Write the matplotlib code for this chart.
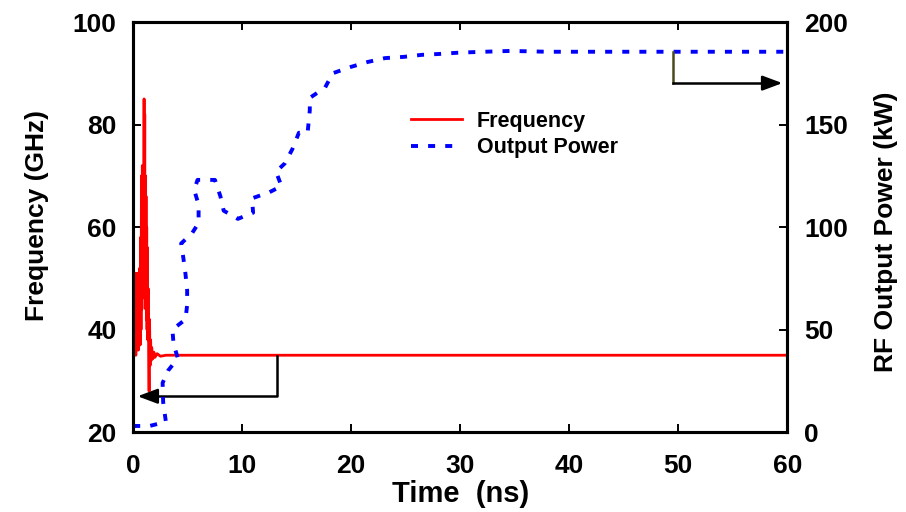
import matplotlib.pyplot as plt

plt.rcParams["font.family"] = ["Liberation Sans", "DejaVu Sans"]
plt.rcParams["font.weight"] = "bold"

# frequency trace (GHz) vs time (ns)
freq_t = [0.0, 0.04, 0.08, 0.12, 0.16, 0.2, 0.24, 0.28, 0.32, 0.36, 0.4,
          0.44, 0.48, 0.52, 0.56, 0.6, 0.64, 0.68, 0.72, 0.76, 0.8, 0.84,
          0.88, 0.92, 0.96, 1.0, 1.03, 1.06, 1.09, 1.12, 1.15, 1.18, 1.21,
          1.24, 1.27, 1.3, 1.34, 1.38, 1.42, 1.46, 1.5, 1.55, 1.6, 1.65,
          1.7, 1.8, 1.9, 2.0, 2.2, 2.5, 3.0, 60.0]
freq = [35, 51, 35, 50, 36, 51, 35, 49, 36, 51, 37,
        48, 36, 50, 38, 52, 37, 58, 40, 70, 44, 72,
        48, 68, 55, 85, 58, 82, 46, 70, 44, 66, 42,
        60, 40, 56, 38, 48, 36, 28, 42, 33, 38, 34,
        36.5, 34.3, 35.6, 34.6, 35.3, 34.8, 35.0, 35.0]

# RF output power (kW) vs time (ns)
pow_t = [0.0, 1.5, 3.0, 2.75, 2.7, 3.2, 4.1, 3.7, 3.6, 4.8, 4.95, 4.95, 4.8,
         4.6, 4.4, 5.4, 6.0, 6.0, 5.6, 5.9, 7.5, 8.0, 8.3, 9.6, 11.0, 10.9,
         12.5, 13.6, 13.1, 13.9, 14.6, 15.2, 16.0, 16.2, 16.2, 17.6, 18.3,
         19.9, 21.5, 23.1, 24.8, 26.5, 28.0, 29.7, 31.6, 34.6, 38.0, 60.0]
power = [3, 3, 5, 14.6, 24, 30, 36, 43, 50, 55, 62, 69, 77,
         85, 92, 97, 102, 111, 118, 123, 123, 115, 108, 104, 107, 114,
         117, 120, 127, 131, 138, 146, 146, 157, 163, 168, 175,
         178, 180.5, 182.4, 183, 184, 184.4, 185, 185.4, 185.9, 185.5, 185.5]

fig = plt.figure(figsize=(9.06, 5.12), dpi=100)
ax1 = fig.add_axes([0.147, 0.156, 0.722, 0.801])
ax2 = ax1.twinx()

l1, = ax1.plot(freq_t, freq, color="red", lw=2.0, label="Frequency")
l2, = ax2.plot(pow_t, power, color="blue", lw=2.8,
               linestyle=(0, (1.8, 2.6)), label="Output Power")

ax1.set_xlim(0, 60)
ax1.set_ylim(20, 100)
ax2.set_ylim(0, 200)
ax1.set_xticks([0, 10, 20, 30, 40, 50, 60])
ax1.set_yticks([20, 40, 60, 80, 100])
ax2.set_yticks([0, 50, 100, 150, 200])

for ax in (ax1, ax2):
    for s in ax.spines.values():
        s.set_linewidth(2.2)
    ax.tick_params(direction="in", length=6, width=1.4, labelsize=19, pad=12)
ax1.tick_params(top=True)
ax1.tick_params(axis="x", pad=16)

ax1.set_xlabel("Time  (ns)", fontsize=21, fontweight="bold", labelpad=1)
ax1.set_ylabel("Frequency (GHz)", fontsize=19, fontweight="bold", labelpad=17)
ax2.set_ylabel("RF Output Power (kW)", fontsize=19, fontweight="bold", labelpad=19)
ax1.yaxis.label.set_y(0.527)
ax2.yaxis.label.set_y(0.488)

# arrows pointing to the axes
ax1.plot([13.2, 13.2, 1.5], [34.8, 27.0, 27.0], color="black", lw=1.8)
ax1.annotate("", xy=(0.15, 27.0), xytext=(2.0, 27.0),
             arrowprops=dict(arrowstyle="-|>,head_length=1.2,head_width=0.45",
                             color="black", lw=1.8))
ax2.plot([49.5, 49.5], [185.5, 170.2], color="#4a4a20", lw=1.8)
ax2.plot([49.5, 58.0], [170.2, 170.2], color="black", lw=1.8)
ax2.annotate("", xy=(59.8, 170.2), xytext=(58.0, 170.2),
             arrowprops=dict(arrowstyle="-|>,head_length=1.2,head_width=0.45",
                             color="black", lw=1.8))

ax1.legend(handles=[l1, l2], loc="upper left", bbox_to_anchor=(0.405, 0.815),
           frameon=False, handlelength=2.35, handletextpad=0.7,
           labelspacing=0.25, borderaxespad=0.2,
           prop={"weight": "bold", "size": 15.5})

fig.savefig("out.png", dpi=100)
